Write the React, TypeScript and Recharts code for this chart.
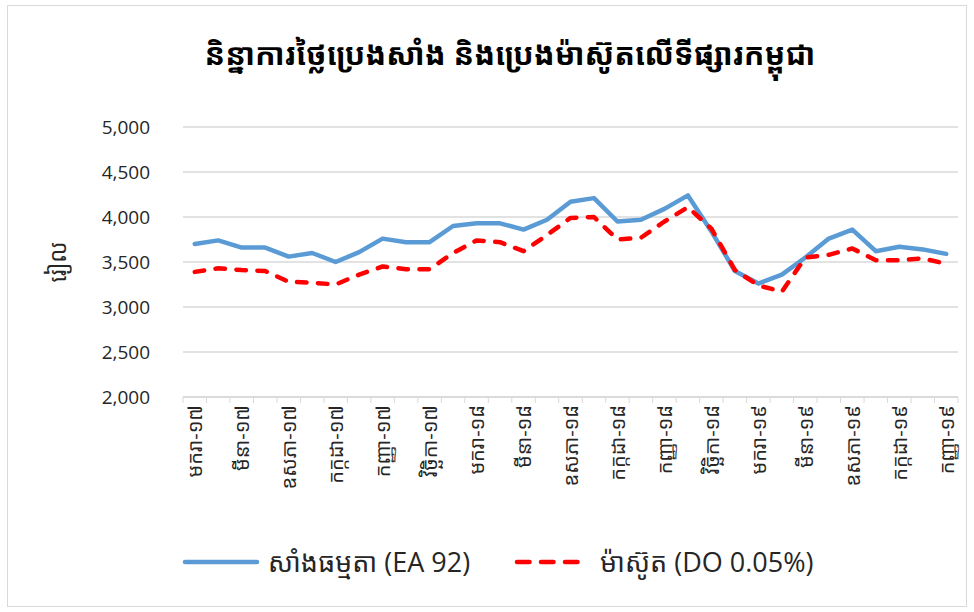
import { LineChart, Line, XAxis, YAxis, CartesianGrid } from 'recharts';

// Jan-17 .. Sep-19, one point per month
const categories = [
  'មករា-១៧', 'កុម្ភៈ-១៧', 'មីនា-១៧', 'មេសា-១៧', 'ឧសភា-១៧', 'មិថុនា-១៧',
  'កក្កដា-១៧', 'សីហា-១៧', 'កញ្ញា-១៧', 'តុលា-១៧', 'វិច្ឆិកា-១៧', 'ធ្នូ-១៧',
  'មករា-១៨', 'កុម្ភៈ-១៨', 'មីនា-១៨', 'មេសា-១៨', 'ឧសភា-១៨', 'មិថុនា-១៨',
  'កក្កដា-១៨', 'សីហា-១៨', 'កញ្ញា-១៨', 'តុលា-១៨', 'វិច្ឆិកា-១៨', 'ធ្នូ-១៨',
  'មករា-១៩', 'កុម្ភៈ-១៩', 'មីនា-១៩', 'មេសា-១៩', 'ឧសភា-១៩', 'មិថុនា-១៩',
  'កក្កដា-១៩', 'សីហា-១៩', 'កញ្ញា-១៩',
];

const ea92 = [
  3700, 3740, 3660, 3660, 3560, 3600, 3500, 3610, 3760, 3720, 3720, 3900,
  3930, 3930, 3860, 3970, 4170, 4210, 3950, 3970, 4090, 4240, 3840, 3400,
  3260, 3360, 3550, 3760, 3860, 3620, 3670, 3640, 3590,
];

const do005 = [
  3390, 3430, 3410, 3400, 3280, 3270, 3250, 3360, 3450, 3420, 3420, 3600,
  3740, 3720, 3620, 3800, 3990, 4000, 3750, 3770, 3950, 4110, 3870, 3410,
  3240, 3170, 3550, 3580, 3650, 3520, 3520, 3540, 3480,
];

const yTicks = [2000, 2500, 3000, 3500, 4000, 4500, 5000];

const title = 'និន្នាការថ្លៃប្រេងសាំង និងប្រេងម៉ាស៊ូតលើទីផ្សារកម្ពុជា';
const yLabel = 'រៀល';

const series = [
  { key: 'ea92', name: 'សាំងធម្មតា (EA 92)', color: '#5B9BD5', dash: undefined, legendDash: undefined },
  { key: 'do005', name: 'ម៉ាស៊ូត (DO 0.05%)', color: '#FF0000', dash: '9.5 11.5', legendDash: '12.5 11.5' },
];

const data = categories.map((month, i) => ({ month, ea92: ea92[i], do005: do005[i] }));

const W = 974;
const H = 612;
const PLOT_LEFT = 183;
const PLOT_RIGHT = 958;
const PLOT_TOP = 127;
const PLOT_BOTTOM = 397;
const X_AXIS_H = 120;
const band = (PLOT_RIGHT - PLOT_LEFT) / categories.length;

const font = '"Open Sans", "Noto Sans Khmer", "Noto Sans", sans-serif';
const textColor = '#262626';
const gridColor = '#d9d9d9';

function MonthTick(props: any) {
  const { x, payload, index } = props;
  const ty = PLOT_BOTTOM + 8;
  return (
    <g>
      <line x1={x - band / 2} x2={x - band / 2} y1={PLOT_BOTTOM} y2={PLOT_BOTTOM + 6} stroke={gridColor} />
      {index === categories.length - 1 && (
        <line x1={x + band / 2} x2={x + band / 2} y1={PLOT_BOTTOM} y2={PLOT_BOTTOM + 6} stroke={gridColor} />
      )}
      {index % 2 === 0 && (
        <text
          x={x}
          y={ty}
          transform={`rotate(-90 ${x} ${ty})`}
          textAnchor="end"
          dominantBaseline="central"
          fontSize={20}
          fontFamily={font}
          fill={textColor}
        >
          {payload.value}
        </text>
      )}
    </g>
  );
}

function YTitle(props: any) {
  const vb = props.viewBox;
  const cy = vb.y + vb.height / 2;
  return (
    <text x={57} y={cy} transform={`rotate(-90 57 ${cy})`} textAnchor="middle" dominantBaseline="central" fontSize={23} fontFamily={font} fill={textColor}>
      {yLabel}
    </text>
  );
}

export default function App() {
  return (
    <div style={{ position: 'absolute', left: 0, top: 0, width: W, height: H, background: '#fff', fontFamily: font }}>
      <div style={{ position: 'absolute', left: 7, top: 5, width: 958, height: 600, border: `1px solid ${gridColor}` }} />
      <div
        style={{
          position: 'absolute',
          left: 160,
          top: 32,
          width: 700,
          textAlign: 'center',
          fontSize: 30.5,
          fontWeight: 700,
          color: '#000',
          whiteSpace: 'nowrap',
        }}
      >
        {title}
      </div>

      <div style={{ position: 'absolute', left: 0, top: 0 }}>
        <LineChart
          width={W}
          height={H}
          data={data}
          margin={{ top: PLOT_TOP, right: W - PLOT_RIGHT, bottom: H - PLOT_BOTTOM - X_AXIS_H, left: 0 }}
        >
          <CartesianGrid vertical={false} stroke={gridColor} strokeWidth={1.5} />
          <XAxis
            dataKey="month"
            interval={0}
            height={X_AXIS_H}
            padding={{ left: band / 2, right: band / 2 }}
            tick={<MonthTick />}
            tickLine={false}
            axisLine={{ stroke: gridColor, strokeWidth: 1.5 }}
          />
          <YAxis
            width={PLOT_LEFT}
            domain={[2000, 5000]}
            ticks={yTicks}
            tickFormatter={(v: number) => v.toLocaleString('en-US')}
            axisLine={false}
            tickLine={false}
            tickMargin={27}
            tick={{ fontSize: 19, fill: textColor, fontFamily: font }}
            label={{ value: yLabel, content: <YTitle /> }}
          />
          {series.map((s) => (
            <Line
              key={s.key}
              type="linear"
              dataKey={s.key}
              name={s.name}
              stroke={s.color}
              strokeWidth={4.5}
              strokeDasharray={s.dash}
              strokeLinecap="round"
              strokeLinejoin="round"
              dot={false}
              activeDot={false}
              isAnimationActive={false}
            />
          ))}
        </LineChart>
      </div>

      <div style={{ position: 'absolute', left: 182, top: 543, display: 'flex', alignItems: 'center', fontSize: 27, color: textColor, whiteSpace: 'nowrap' }}>
        {series.map((s, i) => (
          <div key={s.key} style={{ display: 'flex', alignItems: 'center', marginLeft: i === 0 ? 0 : 44 }}>
            <svg width={78} height={12} style={{ marginRight: 8 }}>
              <line x1={3} x2={i === 0 ? 75 : 68} y1={6} y2={6} stroke={s.color} strokeWidth={4.5} strokeDasharray={s.legendDash} strokeLinecap="round" />
            </svg>
            <span>{s.name}</span>
          </div>
        ))}
      </div>
    </div>
  );
}
